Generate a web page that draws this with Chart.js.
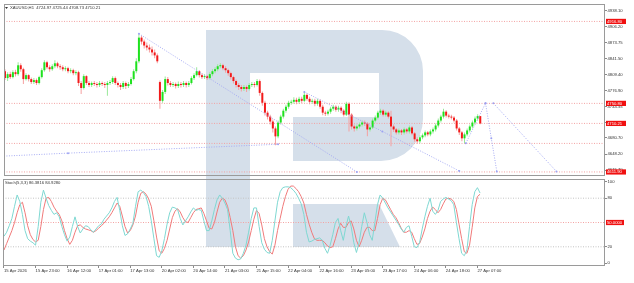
<!DOCTYPE html>
<html><head><meta charset="utf-8">
<script src="https://cdn.jsdelivr.net/npm/chart.js@4.4.1/dist/chart.umd.min.js"></script>
<style>
html,body{margin:0;padding:0;background:#fff;width:634px;height:283px;overflow:hidden}
canvas{position:absolute;left:0}
#c1{top:0}
#c2{top:178px}
</style></head><body>
<canvas id="c1" width="634" height="180"></canvas>
<canvas id="c2" width="634" height="105"></canvas>
<script>
// ---------------- data ----------------
const symbolTitle = "XAUUSD,H1  4724.97 4725.44 4708.73 4710.21";
const stochTitle = "Stoch(5,3,3) 86.3816 84.9280";

const xTickBars = [0,12,24,36,48,60,72,84,96,108,120,132,144,156,168,180];
const xTickLabels = ["15 Apr 2026","15 Apr 23:00","16 Apr 12:00","17 Apr 01:00","17 Apr 13:00","20 Apr 02:00","20 Apr 14:00","21 Apr 03:00","21 Apr 15:00","22 Apr 04:00","22 Apr 16:00","23 Apr 05:00","23 Apr 17:00","24 Apr 06:00","24 Apr 18:00","27 Apr 07:00"];

const priceTicks = [4938.10,4906.20,4873.75,4841.50,4809.40,4776.90,4744.55,4712.25,4680.70,4648.20,4615.70];
const stochTicks = [0,20,80,100];

const opens = [
4816,4802,4810,4804,4814,4810,4828,4820,4800,4808,
4800,4794,4798,4792,4804,4818,4834,4824,4820,4826,
4832,4826,4824,4820,4822,4816,4818,4812,4814,4792,
4782,4806,4792,4788,4792,4790,4788,4792,4790,4788,
4792,4794,4802,4792,4788,4784,4792,4786,4790,4800,
4816,4836,4884,4876,4868,4864,4860,4854,4848,4794,
4756,4774,4800,4792,4788,4790,4786,4790,4788,4792,
4788,4792,4802,4808,4816,4808,4804,4806,4802,4810,
4816,4820,4826,4828,4822,4818,4812,4804,4796,4788,
4784,4780,4784,4780,4788,4790,4788,4796,4772,4752,
4732,4724,4714,4700,4684,4712,4724,4736,4744,4752,
4754,4758,4754,4760,4756,4768,4760,4754,4756,4750,
4756,4744,4732,4730,4734,4740,4744,4738,4742,4736,
4728,4750,4728,4704,4700,4704,4708,4712,4710,4698,
4702,4716,4722,4732,4736,4728,4732,4724,4704,4698,
4692,4696,4692,4698,4694,4702,4690,4678,4674,4682,
4686,4692,4688,4694,4698,4706,4716,4724,4734,4726,
4724,4722,4716,4700,4692,4680,4688,4696,4704,4712,
4720,4724.97];
const highs = [
4820,4814,4815,4818,4819,4834,4832,4823,4812,4810,
4803,4802,4801,4807,4822,4838,4837,4828,4830,4838,
4835,4830,4828,4826,4825,4822,4821,4818,4817,4796,
4810,4808,4796,4795,4796,4794,4796,4795,4794,4796,
4798,4806,4805,4795,4792,4796,4795,4794,4804,4820,
4842,4892,4888,4880,4874,4870,4866,4860,4852,4797,
4778,4805,4804,4796,4794,4793,4795,4794,4796,4795,
4796,4806,4812,4824,4818,4812,4810,4809,4814,4820,
4824,4830,4832,4831,4826,4821,4815,4807,4799,4792,
4788,4788,4787,4792,4794,4794,4800,4799,4775,4756,
4736,4728,4718,4704,4716,4728,4740,4748,4756,4758,
4763,4762,4764,4764,4774,4771,4764,4760,4760,4760,
4759,4748,4736,4738,4744,4748,4747,4746,4745,4739,
4754,4753,4731,4708,4708,4712,4716,4716,4713,4706,
4720,4726,4736,4740,4739,4736,4735,4736,4708,4701,
4700,4699,4702,4701,4706,4705,4693,4682,4686,4690,
4696,4695,4698,4702,4710,4720,4728,4740,4737,4730,
4728,4725,4719,4703,4695,4692,4700,4708,4716,4724,
4729,4725.44];
const lows = [
4798,4796,4800,4801,4805,4807,4815,4790,4797,4795,
4790,4790,4788,4789,4801,4815,4820,4815,4817,4822,
4822,4819,4816,4816,4812,4812,4808,4808,4786,4770,
4779,4788,4784,4784,4786,4783,4784,4786,4782,4766,
4788,4790,4788,4783,4778,4780,4780,4782,4787,4797,
4812,4832,4870,4862,4858,4854,4848,4842,4832,4740,
4752,4770,4787,4784,4784,4781,4782,4783,4784,4783,
4784,4789,4798,4805,4803,4800,4800,4798,4799,4806,
4812,4816,4822,4818,4813,4807,4799,4791,4783,4778,
4775,4776,4774,4777,4784,4783,4785,4766,4746,4726,
4718,4708,4692,4666,4680,4708,4720,4732,4740,4748,
4750,4749,4750,4751,4753,4756,4749,4750,4745,4746,
4740,4727,4725,4726,4730,4736,4734,4734,4731,4724,
4725,4694,4698,4694,4696,4700,4704,4705,4684,4694,
4699,4712,4718,4728,4724,4724,4720,4664,4693,4688,
4688,4687,4688,4690,4690,4686,4673,4669,4670,4678,
4682,4684,4684,4690,4694,4702,4712,4720,4722,4720,
4718,4712,4696,4687,4674,4670,4684,4692,4700,4708,
4716,4708.73];
const closes = [
4802,4810,4804,4814,4810,4828,4820,4800,4808,4800,
4794,4798,4792,4804,4818,4834,4824,4820,4826,4832,
4826,4824,4820,4822,4816,4818,4812,4814,4792,4782,
4806,4792,4788,4792,4790,4788,4792,4790,4788,4792,
4794,4802,4792,4788,4784,4792,4786,4790,4800,4816,
4836,4884,4876,4868,4864,4860,4854,4848,4836,4756,
4774,4800,4792,4788,4790,4786,4790,4788,4792,4788,
4792,4802,4808,4816,4808,4804,4806,4802,4810,4816,
4820,4826,4828,4822,4818,4812,4804,4796,4788,4784,
4780,4784,4780,4788,4790,4788,4796,4772,4752,4732,
4724,4714,4700,4684,4712,4724,4736,4744,4752,4754,
4758,4754,4760,4756,4768,4760,4754,4756,4750,4756,
4744,4732,4730,4734,4740,4744,4738,4742,4736,4728,
4750,4728,4704,4700,4704,4708,4712,4710,4698,4702,
4716,4722,4732,4736,4728,4732,4724,4704,4698,4692,
4696,4692,4698,4694,4702,4690,4678,4674,4682,4686,
4692,4688,4694,4698,4706,4716,4724,4734,4726,4724,
4722,4716,4700,4692,4680,4688,4696,4704,4712,4720,
4725,4710.21];

const stochK = [
33,38,46,55,70,84,76,60,40,30,
27,25,22,45,75,90,80,71,65,60,
62,57,45,35,27,32,45,57,45,37,
42,46,45,41,38,42,46,48,54,58,
62,68,76,81,65,46,34,36,42,49,
70,88,90,87,82,70,52,30,9,7,
15,30,48,62,69,68,66,55,47,52,
57,63,68,65,66,65,52,40,40,52,
66,78,84,80,74,66,40,12,6,4,
5,12,22,38,55,68,68,45,25,17,
13,12,28,52,75,88,93,94,94,93,
90,86,80,73,60,38,26,27,29,30,
31,28,18,12,22,35,50,55,40,28,
45,58,45,25,13,25,45,62,50,35,
28,50,72,84,80,74,68,63,58,53,
48,42,38,44,46,33,20,19,25,42,
57,70,80,64,60,65,76,79,81,79,
77,72,50,30,12,9,16,45,72,88,
93,86.38];
const stochD = [
16,24,32,40,50,62,72,75,62,46,
35,29,26,28,45,66,80,81,76,69,
64,60,52,40,30,23,28,38,46,47,
44,42,41,40,38,40,43,46,49,53,
57,62,68,74,70,58,45,37,40,47,
58,75,86,88,85,79,70,52,32,15,
12,18,28,42,56,64,67,63,56,51,
50,56,62,66,67,68,61,52,43,42,
50,63,75,80,78,70,56,40,20,9,
6,9,16,26,40,54,65,61,47,30,
20,14,11,22,40,55,70,82,91,95,
95,92,88,82,74,60,48,38,30,28,
28,28,25,21,19,20,30,42,49,44,
44,50,52,42,28,20,28,38,44,44,
40,40,55,72,80,78,72,66,60,56,
50,43,38,38,40,38,30,23,24,32,
42,55,64,69,66,62,66,73,79,80,
79,76,66,48,30,14,12,22,44,68,
82,84.93];

const priceLevels = [4916.80, 4750.80, 4710.21, 4669.70, 4611.90];
const labelledPriceLevels = [4916.80, 4750.80, 4710.21, 4611.90];
const stochGrayLevels = [80, 20];
const stochRedLevels = [50];

// analyst trend lines: [bar, price] points
const trendLines = [
  [[51,4892],[134,4612]],
  [[-0.4,4644],[24,4650],[104,4668]],
  [[114,4774],[143.7,4694],[173,4614]],
  [[175.5,4670],[183,4751]],
  [[183,4751],[185.2,4680],[187.3,4613]],
  [[186,4751],[210,4613]]
];

// ---------------- rendering ----------------
const FONT = '"Liberation Sans", Arial, sans-serif';
const X_MIN = -0.38, X_MAX = 228.5;
const UP = '#1ee21e', DOWN = '#f21a1a', UPW = '#9ae89a', DOWNW = '#f5a0a0';

function drawWatermark(ctx, oy){
  ctx.save();
  ctx.translate(0, -oy);
  ctx.fillStyle = 'rgb(213,223,234)';
  ctx.fillRect(206, 30, 44, 217);
  ctx.beginPath();
  ctx.moveTo(250,30); ctx.lineTo(382,30);
  ctx.arcTo(423,30,423,72,41);
  ctx.lineTo(423,119);
  ctx.arcTo(423,161,381,161,42);
  ctx.lineTo(293,161); ctx.lineTo(293,117); ctx.lineTo(379,117);
  ctx.lineTo(379,73); ctx.lineTo(250,73); ctx.closePath();
  ctx.fill();
  ctx.beginPath();
  ctx.moveTo(293,204); ctx.lineTo(379,204); ctx.lineTo(400,247); ctx.lineTo(293,247); ctx.closePath();
  ctx.fill();
  ctx.restore();
}

const framePlugin = {
  id: 'frame',
  beforeDatasetsDraw(chart, args, o){ drawWatermark(chart.ctx, o.offsetY); },
  afterDraw(chart, args, o){
    const {ctx, chartArea: a} = chart;
    ctx.save();
    ctx.strokeStyle = '#9a9a9a'; ctx.lineWidth = 1;
    ctx.strokeRect(Math.round(a.left)+0.5, Math.round(a.top)+0.5, Math.round(a.right-a.left)-1, Math.round(a.bottom-a.top)-1);
    ctx.font = '4.2px ' + FONT; ctx.textBaseline = 'middle'; ctx.textAlign = 'left';
    ctx.fillStyle = '#333';
    if (o.triangle){
      ctx.beginPath(); ctx.moveTo(5, a.top+3); ctx.lineTo(8, a.top+3); ctx.lineTo(6.5, a.top+5); ctx.closePath(); ctx.fill();
    }
    ctx.fillText(o.title, o.titleX, a.top + 4);
    const ys = chart.scales.y;
    for (const v of o.labels){
      const y = ys.getPixelForValue(v);
      ctx.fillStyle = '#f01010';
      ctx.fillRect(606, y-2.6, o.labelW, 5.2);
      ctx.fillStyle = '#fff';
      ctx.fillText(v.toFixed(o.digits), 607, y+0.2);
    }
    ctx.restore();
  }
};

function hLine(v, color, dash, order){
  return {type:'line', data:[{x:X_MIN,y:v},{x:X_MAX,y:v}], borderColor:color, borderWidth:1,
    borderDash:dash, pointRadius:0, order:order};
}
function yAxis(min, max, ticks, fmt){
  return {
    position:'right', min:min, max:max,
    afterBuildTicks: s => { s.ticks = ticks.map(v => ({value:v})); },
    afterFit: s => { s.width = 29; s.paddingTop = 0; s.paddingBottom = 0; },
    border:{display:false},
    grid:{drawOnChartArea:false, drawTicks:true, tickLength:2, color:'#8a8a8a'},
    ticks:{color:'#333', padding:0.5, font:{size:4.2, family:FONT}, callback: v => fmt(v), autoSkip:false}
  };
}
function xAxis(show){
  return {type:'linear', min:X_MIN, max:X_MAX, offset:false, bounds:'data', display:show,
    afterBuildTicks: s => { s.ticks = xTickBars.map(v => ({value:v})); },
    afterFit: s => { if (show) s.height = 17; s.paddingLeft = 0; s.paddingRight = 0; },
    border:{display:false},
    grid:{offset:false, drawOnChartArea:false, drawTicks:true, tickLength:2, color:'#8a8a8a'},
    ticks:{color:'#333', padding:0, align:'start', maxRotation:0, autoSkip:false,
      font:{size:4.2, family:FONT}, callback:(v,i) => xTickLabels[i]}
  };
}

// main chart
const bodies = closes.map((c,i) => ({x:i, y:[opens[i], c]}));
const wicks = closes.map((c,i) => ({x:i, y:[lows[i], highs[i]]}));
const bodyColors = closes.map((c,i) => c >= opens[i] ? UP : DOWN);
const wickColors = closes.map((c,i) => c >= opens[i] ? UPW : DOWNW);

const mainDatasets = [];
priceLevels.forEach(v => mainDatasets.push(hLine(v, '#f3a3a3', [1,1.5], 10)));
mainDatasets.push({type:'bar', data:wicks, backgroundColor:wickColors, grouped:false,
  barPercentage:1, categoryPercentage:0.4, maxBarThickness:1, minBarLength:1, order:8});
mainDatasets.push({type:'bar', data:bodies, backgroundColor:bodyColors, grouped:false,
  barPercentage:1, categoryPercentage:0.8, maxBarThickness:2, minBarLength:1, order:6});
trendLines.forEach(pts => mainDatasets.push({type:'line', data:pts.map(p => ({x:p[0], y:p[1]})),
  borderColor:'#a6abf3', borderWidth:1, borderDash:[1,1.5], pointRadius:1,
  pointBackgroundColor:'#9ca2f2', pointBorderWidth:0, order:2}));

new Chart(document.getElementById('c1'), {
  type:'bar',
  data:{datasets: mainDatasets},
  options:{
    responsive:false, animation:false, events:[], devicePixelRatio:1,
    layout:{padding:{left:3, top:4, right:0, bottom:2}},
    plugins:{legend:{display:false}, tooltip:{enabled:false},
      frame:{offsetY:0, title:symbolTitle, titleX:10, triangle:true, labels:labelledPriceLevels, digits:2, labelW:20}},
    scales:{
      x: xAxis(false),
      y: yAxis(4603.7, 4952.1, priceTicks, v => v.toFixed(2))
    }
  },
  plugins:[framePlugin]
});

// stochastic chart
const stochDatasets = [];
stochGrayLevels.forEach(v => stochDatasets.push(hLine(v, '#c4c4c4', [1,1.5], 10)));
stochRedLevels.forEach(v => stochDatasets.push(hLine(v, '#f3a3a3', [1,1.5], 9)));
stochDatasets.push({type:'line', data: stochD.map((v,i) => ({x:i, y:v})), borderColor:'#f07a7a',
  borderWidth:1, pointRadius:0, tension:0, order:3});
stochDatasets.push({type:'line', data: stochK.map((v,i) => ({x:i, y:v})), borderColor:'#7fd8d2',
  borderWidth:1, pointRadius:0, tension:0, order:2});

new Chart(document.getElementById('c2'), {
  type:'line',
  data:{datasets: stochDatasets},
  options:{
    responsive:false, animation:false, events:[], devicePixelRatio:1,
    layout:{padding:{left:3, top:1, right:0, bottom:0}},
    plugins:{legend:{display:false}, tooltip:{enabled:false},
      frame:{offsetY:178, title:stochTitle, titleX:5, triangle:false, labels:stochRedLevels, digits:4, labelW:18}},
    scales:{
      x: xAxis(true),
      y: yAxis(-3.7, 103.7, stochTicks, v => String(v))
    }
  },
  plugins:[framePlugin]
});
</script>
</body></html>
